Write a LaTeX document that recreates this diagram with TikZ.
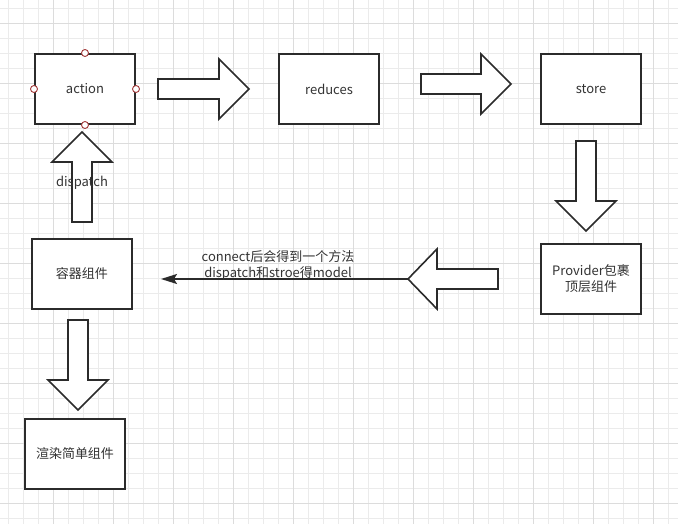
\documentclass[tikz,border=0pt]{standalone}
\usepackage{fontspec}
\setmainfont{Noto Sans CJK SC}
\usetikzlibrary{arrows.meta}
\definecolor{txt}{HTML}{333333}
\definecolor{edge}{HTML}{2B2B2B}
\definecolor{gridminor}{HTML}{EBEBEB}
\definecolor{gridmajor}{HTML}{DCDCDC}
\definecolor{portred}{HTML}{A33A3A}
\tikzset{
  box/.style={draw=edge, line width=2pt, fill=white, minimum width=100pt, minimum height=70pt, inner sep=0pt, text=txt, font=\fontsize{13pt}{16pt}\selectfont, align=center},
  blockarrow/.style={draw=edge, line width=1.6pt, fill=white, line join=miter},
  label/.style={text=txt, font=\fontsize{13pt}{16pt}\selectfont, align=center, inner sep=0pt},
  port/.style={circle, draw=portred, line width=0.9pt, fill=white, minimum size=7pt, inner sep=0pt},
  connector/.style={draw=edge, line width=1.6pt, -{Stealth[length=16pt,width=10pt,inset=3pt]}},
}
\begin{document}
\begin{tikzpicture}[x=1pt,y=-1pt]
\useasboundingbox (0,0) rectangle (678,524);
\fill[white] (0,0) rectangle (678,524);
% grid
\foreach \x in {8,23,...,678} \draw[gridminor, line width=0.8pt] (\x,0) -- (\x,524);
\foreach \y in {8,23,...,524} \draw[gridminor, line width=0.8pt] (0,\y) -- (678,\y);
\foreach \x in {53,113,...,678} \draw[gridmajor, line width=0.8pt] (\x,0) -- (\x,524);
\foreach \y in {23,83,...,524} \draw[gridmajor, line width=0.8pt] (0,\y) -- (678,\y);

% boxes
\node[box] (action) at (85,89) {action};
\node[box] (reduces) at (329,89) {reduces};
\node[box] (store) at (591,89) {store};
\node[box] (provider) at (591,279) {Provider包裹\\顶层组件};
\node[box] (container) at (82,274) {容器组件};
\node[box] (render) at (75,454) {渲染简单组件};

% ports on action
\foreach \a in {north,south,east,west} \node[port] at (action.\a) {};

% block arrows
% action -> reduces
\draw[blockarrow] (158,79) -- (219,79) -- (219,59) -- (249,89) -- (219,119) -- (219,99) -- (158,99) -- cycle;
% reduces -> store
\draw[blockarrow] (421,74) -- (481,74) -- (481,54) -- (511,84) -- (481,114) -- (481,94) -- (421,94) -- cycle;
% store -> provider
\draw[blockarrow] (576,141) -- (596,141) -- (596,201) -- (616,201) -- (586,231) -- (556,201) -- (576,201) -- cycle;
% provider -> left
\draw[blockarrow] (498,269) -- (437,269) -- (437,249) -- (408,279) -- (437,309) -- (437,289) -- (498,289) -- cycle;
\coordinate (lefttip) at (408,279);
% container -> render
\draw[blockarrow] (68,320) -- (88,320) -- (88,380) -- (108,380) -- (78,410) -- (48,380) -- (68,380) -- cycle;
% container -> action (up)
\draw[blockarrow] (72,222) -- (72,162) -- (52,162) -- (82,132) -- (112,162) -- (92,162) -- (92,222) -- cycle;
\node[label] (dispatchlbl) at (82,183) {dispatch};

% connector
\coordinate (lineend) at (161,279);
\draw[connector] (lefttip) -- (lineend);
\node[label] (conlbl) at (278,265) {connect后会得到一个方法\\dispatch和stroe得model};
\end{tikzpicture}
\end{document}
